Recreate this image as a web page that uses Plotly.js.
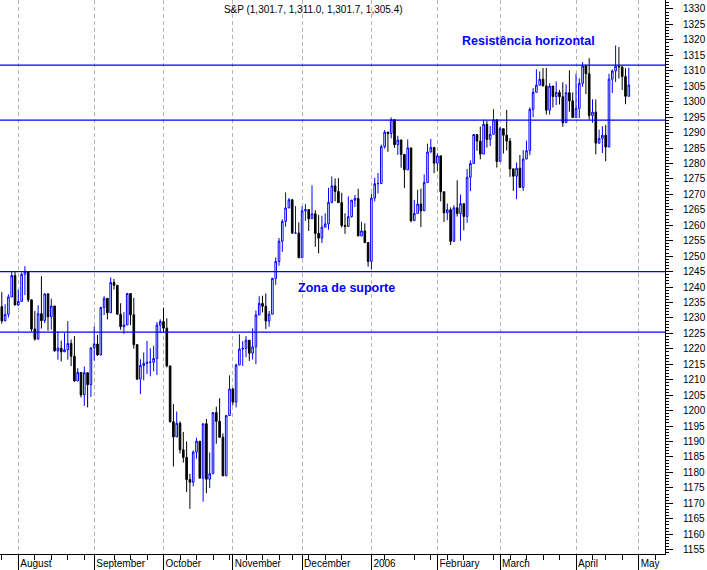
<!DOCTYPE html>
<html><head><meta charset="utf-8">
<script src="https://cdn.plot.ly/plotly-3.0.1.min.js"></script>
<style>html,body{margin:0;padding:0;background:#fff}#chart{width:707px;height:570px}</style>
</head><body><div id="chart"></div>
<script>
const dates = [
'2005-07-25','2005-07-26','2005-07-27','2005-07-28','2005-07-29',
'2005-08-01','2005-08-02','2005-08-03','2005-08-04','2005-08-05','2005-08-08','2005-08-09','2005-08-10','2005-08-11','2005-08-12','2005-08-15','2005-08-16','2005-08-17','2005-08-18','2005-08-19','2005-08-22','2005-08-23','2005-08-24','2005-08-25','2005-08-26','2005-08-29','2005-08-30','2005-08-31',
'2005-09-01','2005-09-02','2005-09-06','2005-09-07','2005-09-08','2005-09-09','2005-09-12','2005-09-13','2005-09-14','2005-09-15','2005-09-16','2005-09-19','2005-09-20','2005-09-21','2005-09-22','2005-09-23','2005-09-26','2005-09-27','2005-09-28','2005-09-29','2005-09-30',
'2005-10-03','2005-10-04','2005-10-05','2005-10-06','2005-10-07','2005-10-10','2005-10-11','2005-10-12','2005-10-13','2005-10-14','2005-10-17','2005-10-18','2005-10-19','2005-10-20','2005-10-21','2005-10-24','2005-10-25','2005-10-26','2005-10-27','2005-10-28','2005-10-31',
'2005-11-01','2005-11-02','2005-11-03','2005-11-04','2005-11-07','2005-11-08','2005-11-09','2005-11-10','2005-11-11','2005-11-14','2005-11-15','2005-11-16','2005-11-17','2005-11-18','2005-11-21','2005-11-22','2005-11-23','2005-11-25','2005-11-28','2005-11-29','2005-11-30',
'2005-12-01','2005-12-02','2005-12-05','2005-12-06','2005-12-07','2005-12-08','2005-12-09','2005-12-12','2005-12-13','2005-12-14','2005-12-15','2005-12-16','2005-12-19','2005-12-20','2005-12-21','2005-12-22','2005-12-23','2005-12-27','2005-12-28','2005-12-29','2005-12-30',
'2006-01-03','2006-01-04','2006-01-05','2006-01-06','2006-01-09','2006-01-10','2006-01-11','2006-01-12','2006-01-13','2006-01-17','2006-01-18','2006-01-19','2006-01-20','2006-01-23','2006-01-24','2006-01-25','2006-01-26','2006-01-27','2006-01-30','2006-01-31',
'2006-02-01','2006-02-02','2006-02-03','2006-02-06','2006-02-07','2006-02-08','2006-02-09','2006-02-10','2006-02-13','2006-02-14','2006-02-15','2006-02-16','2006-02-17','2006-02-21','2006-02-22','2006-02-23','2006-02-24','2006-02-27','2006-02-28',
'2006-03-01','2006-03-02','2006-03-03','2006-03-06','2006-03-07','2006-03-08','2006-03-09','2006-03-10','2006-03-13','2006-03-14','2006-03-15','2006-03-16','2006-03-17','2006-03-20','2006-03-21','2006-03-22','2006-03-23','2006-03-24','2006-03-27','2006-03-28','2006-03-29','2006-03-30','2006-03-31',
'2006-04-03','2006-04-04','2006-04-05','2006-04-06','2006-04-07','2006-04-10','2006-04-11','2006-04-12','2006-04-13','2006-04-17','2006-04-18','2006-04-19','2006-04-20','2006-04-21','2006-04-24','2006-04-25','2006-04-26'
];
const openP = [
1233.68,1229.03,1231.16,1236.79,1243.72,
1234.18,1235.35,1244.12,1245.04,1235.86,1226.42,1223.13,1231.38,1229.13,1237.81,1230.39,1233.87,1219.34,1220.24,1219.02,1219.71,1221.73,1217.59,1209.59,1212.37,1205.10,1212.28,1208.41,
1220.33,1221.59,1218.02,1233.39,1236.36,1231.67,1241.48,1240.56,1231.20,1227.16,1227.73,1237.91,1231.02,1221.34,1210.20,1214.62,1215.29,1215.63,1215.66,1216.89,1227.68,
1228.81,1226.70,1214.47,1196.39,1191.49,1195.90,1187.33,1184.87,1177.68,1176.84,1186.57,1190.10,1178.14,1195.76,1177.80,1179.59,1199.38,1196.54,1191.38,1178.90,1198.41,
1207.01,1202.76,1214.76,1219.94,1220.14,1222.81,1218.59,1220.65,1230.96,1234.72,1233.76,1229.01,1231.21,1242.80,1248.27,1254.85,1261.23,1265.61,1268.25,1257.46,1257.48,
1249.48,1264.67,1265.08,1262.09,1263.70,1257.37,1255.84,1259.37,1260.43,1267.43,1272.74,1270.94,1267.32,1259.92,1259.62,1262.79,1268.12,1268.66,1256.54,1258.17,1254.42,
1248.29,1268.80,1273.46,1273.48,1285.45,1290.15,1289.69,1294.18,1286.06,1287.61,1282.93,1277.93,1285.04,1261.49,1263.82,1266.86,1264.68,1273.83,1283.72,1285.19,
1280.08,1282.46,1270.84,1264.03,1265.02,1254.78,1265.65,1263.78,1266.99,1262.86,1275.53,1280.00,1289.38,1287.24,1283.03,1292.67,1287.79,1289.43,1294.12,
1280.66,1291.24,1289.14,1287.23,1278.26,1275.88,1278.47,1272.23,1281.42,1284.13,1297.48,1303.02,1305.33,1307.25,1305.08,1297.23,1305.04,1301.67,1302.95,1301.61,1293.23,1302.89,1300.25,
1294.87,1297.81,1305.93,1311.56,1309.04,1295.50,1296.62,1286.57,1288.12,1289.12,1285.33,1307.28,1309.93,1311.46,1311.28,1308.11,1301.74
];
const highP = [
1238.36,1234.42,1237.64,1245.15,1245.04,
1239.10,1244.69,1246.75,1245.04,1235.86,1232.28,1234.11,1243.50,1237.81,1237.81,1236.24,1233.87,1225.49,1222.64,1225.08,1228.96,1223.04,1224.15,1213.73,1212.37,1214.28,1212.28,1220.36,
1227.29,1224.45,1233.61,1237.06,1236.36,1243.13,1242.60,1240.56,1234.74,1231.88,1237.95,1237.91,1236.49,1221.52,1216.64,1218.83,1222.56,1220.17,1220.98,1228.70,1229.57,
1233.34,1229.88,1214.47,1202.14,1199.71,1196.52,1193.10,1190.02,1179.56,1187.13,1191.21,1190.10,1195.76,1197.30,1186.46,1199.39,1201.30,1204.01,1192.65,1198.41,1211.43,
1207.34,1215.17,1224.70,1222.52,1224.18,1222.81,1226.59,1232.41,1237.04,1237.20,1237.94,1232.24,1242.96,1249.58,1255.89,1261.90,1270.64,1268.78,1268.44,1266.18,1260.93,
1266.17,1266.85,1265.08,1272.89,1264.85,1263.36,1263.08,1263.86,1272.11,1275.80,1275.17,1275.24,1270.51,1263.86,1269.37,1268.19,1269.76,1271.83,1261.10,1260.61,1254.42,
1270.22,1275.37,1276.91,1286.09,1290.78,1290.15,1294.90,1294.18,1288.96,1287.61,1282.93,1287.79,1285.04,1268.19,1271.47,1271.87,1276.44,1286.38,1287.94,1285.20,
1283.33,1282.46,1270.87,1267.04,1265.78,1266.47,1274.56,1269.89,1266.99,1278.21,1281.00,1289.39,1289.47,1291.92,1294.17,1293.84,1292.11,1297.57,1294.12,
1291.80,1291.24,1297.33,1288.23,1278.26,1280.33,1282.74,1284.37,1287.37,1298.14,1304.40,1310.45,1309.79,1310.88,1310.88,1305.97,1305.04,1306.53,1303.74,1306.24,1305.60,1310.15,1303.00,
1309.04,1307.55,1312.81,1311.99,1314.07,1300.74,1300.71,1290.93,1292.09,1292.45,1309.02,1310.39,1318.16,1317.67,1311.28,1310.79,1310.97
];
const lowP = [
1228.15,1229.03,1230.15,1236.79,1234.18,
1233.80,1235.35,1237.38,1235.15,1225.62,1222.67,1223.13,1226.58,1228.33,1225.87,1226.20,1219.05,1216.47,1215.93,1219.02,1216.47,1214.44,1209.37,1209.57,1204.23,1201.53,1201.07,1204.40,
1216.18,1217.75,1218.02,1230.93,1229.51,1231.67,1239.15,1231.20,1226.16,1224.85,1227.73,1227.65,1220.07,1209.89,1205.35,1209.80,1211.84,1211.11,1212.72,1211.54,1225.22,
1225.15,1214.02,1196.25,1181.92,1191.46,1186.12,1183.16,1173.65,1168.20,1175.44,1184.48,1178.13,1170.55,1173.30,1174.92,1179.59,1189.29,1191.38,1178.89,1178.90,1198.41,
1201.66,1201.07,1214.76,1214.45,1217.29,1216.08,1216.53,1215.05,1230.96,1231.78,1226.41,1227.18,1231.21,1240.71,1246.90,1251.40,1259.51,1265.54,1257.17,1257.46,1249.39,
1249.48,1261.42,1258.12,1262.09,1253.02,1250.91,1254.24,1259.37,1258.56,1267.07,1267.74,1267.32,1259.28,1257.21,1259.62,1262.50,1265.92,1256.54,1256.54,1254.18,1246.59,
1245.74,1267.74,1270.30,1273.48,1284.82,1283.76,1288.12,1285.04,1282.78,1278.61,1272.08,1277.93,1260.92,1261.49,1263.82,1259.42,1264.68,1273.83,1283.51,1276.85,
1277.57,1267.72,1261.02,1261.62,1253.61,1254.78,1262.80,1254.98,1258.34,1260.80,1271.06,1280.00,1284.07,1281.33,1283.03,1285.14,1285.62,1289.43,1278.66,
1280.66,1283.21,1284.20,1275.67,1271.11,1268.42,1272.20,1271.11,1281.42,1282.67,1294.97,1303.02,1305.32,1305.05,1295.82,1295.81,1298.11,1298.89,1299.09,1291.84,1293.23,1296.72,1294.87,
1294.87,1294.71,1304.82,1302.44,1294.18,1293.17,1282.96,1286.45,1283.37,1280.74,1285.33,1302.79,1306.38,1307.48,1303.79,1299.17,1301.74
];
const closeP = [
1229.03,1231.16,1236.79,1243.72,1234.18,
1235.35,1244.12,1245.04,1235.86,1226.42,1223.13,1231.38,1229.13,1237.81,1230.39,1233.87,1219.34,1220.24,1219.02,1219.71,1221.73,1217.59,1209.59,1212.37,1205.10,1212.28,1208.41,1220.33,
1221.59,1218.02,1233.39,1236.36,1231.67,1241.48,1240.56,1231.20,1227.16,1227.73,1237.91,1231.02,1221.34,1210.20,1214.62,1215.29,1215.63,1215.66,1216.89,1227.68,1228.81,
1226.70,1214.47,1196.39,1191.49,1195.90,1187.33,1184.87,1177.68,1176.84,1186.57,1190.10,1178.14,1195.76,1177.80,1179.59,1199.38,1196.54,1191.38,1178.90,1198.41,1207.01,
1202.76,1214.76,1219.94,1220.14,1222.81,1218.59,1220.65,1230.96,1234.72,1233.76,1229.01,1231.21,1242.80,1248.27,1254.85,1261.23,1265.61,1268.25,1257.46,1257.48,1249.48,
1264.67,1265.08,1262.09,1263.70,1257.37,1255.84,1259.37,1260.43,1267.43,1272.74,1270.94,1267.32,1259.92,1259.62,1262.79,1268.12,1268.66,1256.54,1258.17,1254.42,1248.29,
1268.80,1273.46,1273.48,1285.45,1290.15,1289.69,1294.18,1286.06,1287.61,1282.93,1277.93,1285.04,1261.49,1263.82,1266.86,1264.68,1273.83,1283.72,1285.19,1280.08,
1282.46,1270.84,1264.03,1265.02,1254.78,1265.65,1263.78,1266.99,1262.86,1275.53,1280.00,1289.38,1287.24,1283.03,1292.67,1287.79,1289.43,1294.12,1280.66,
1291.24,1289.14,1287.23,1278.26,1275.88,1278.47,1272.23,1281.42,1284.13,1297.48,1303.02,1305.33,1307.25,1305.08,1297.23,1305.04,1301.67,1302.95,1301.61,1293.23,1302.89,1300.25,1294.87,
1297.81,1305.93,1311.56,1309.04,1295.50,1296.62,1286.57,1288.12,1289.12,1285.33,1307.28,1309.93,1311.46,1311.28,1308.11,1301.74,1305.41
];
// trading days after the last bar, still shown on the axis
const futureDates = ['2006-04-27','2006-04-28','2006-05-01','2006-05-02','2006-05-03','2006-05-04','2006-05-05','2006-05-08','2006-05-09','2006-05-10','2006-05-11'];
const monthTickDates = ['2005-08-01','2005-09-01','2005-10-03','2005-11-01','2005-12-01','2006-01-03','2006-02-01','2006-03-01','2006-04-03','2006-05-01'];
const monthTickLabels = ['August','September','October','November','December','2006','February','March','April','May'];
const levels = [1311.8, 1294.0, 1245.0, 1225.4];
const titleText = 'S&P (1,301.7, 1,311.0, 1,301.7, 1,305.4)';
const noteTexts = ['Resistência horizontal', 'Zona de suporte'];

const allDates = dates.concat(futureDates);
// weekly minor ticks on Mondays
const mondays = allDates.filter(d => new Date(d + 'T00:00:00Z').getUTCDay() === 1 && monthTickDates.indexOf(d) < 0);

const FONT = 'Liberation Sans, Arial, sans-serif';

const traces = [
  {
    type: 'candlestick',
    x: dates, open: openP, high: highP, low: lowP, close: closeP,
    increasing: {line: {color: '#0000ff', width: 1}, fillcolor: '#ffffff'},
    decreasing: {line: {color: '#000000', width: 1}, fillcolor: '#000000'},
    whiskerwidth: 0,
    showlegend: false,
    hoverinfo: 'skip'
  },
  {
    type: 'scatter', mode: 'markers',
    x: futureDates, y: futureDates.map(() => 1300),
    marker: {opacity: 0, size: 1},
    showlegend: false, hoverinfo: 'skip'
  }
];

const layout = {
  width: 707, height: 570,
  margin: {l: 0, r: 42, t: 0, b: 16, pad: 0},
  paper_bgcolor: '#ffffff', plot_bgcolor: '#ffffff',
  showlegend: false,
  font: {family: FONT, size: 10, color: '#000000'},
  title: {text: titleText, x: 333/707, xanchor: 'center', xref: 'paper', y: 1 - 9/570, yanchor: 'middle',
          font: {family: FONT, size: 10, color: '#000000'}},
  xaxis: {
    type: 'category',
    categoryorder: 'array', categoryarray: allDates,
    range: [-0.55, 200.97],
    rangeslider: {visible: false},
    tickmode: 'array', tickvals: monthTickDates, ticktext: monthTickLabels,
    ticks: 'outside', ticklen: 16, tickwidth: 1, tickcolor: '#000000',
    ticklabelposition: 'outside right',
    ticklabelstandoff: 0,
    ticklabelshift: 1,
    tickfont: {family: FONT, size: 10, color: '#000000'},
    showline: true, linecolor: '#000000', linewidth: 1,
    showgrid: true, gridcolor: '#b4b4b4', gridwidth: 1, griddash: '4px,3px',
    zeroline: false,
    minor: {tickmode: 'array', tickvals: mondays, ticks: 'outside', ticklen: 5, tickcolor: '#000000', tickwidth: 1, showgrid: false}
  },
  yaxis: {
    side: 'right',
    range: [1153.6, 1332.9],
    tickmode: 'linear', tick0: 1155, dtick: 5,
    ticks: 'outside', ticklen: 7, tickwidth: 1, tickcolor: '#000000',
    ticklabelstandoff: 8,
    tickfont: {family: FONT, size: 10, color: '#000000'},
    showline: true, linecolor: '#000000', linewidth: 1,
    showgrid: false, zeroline: false,
    minor: {dtick: 1, tick0: 1155, ticks: 'outside', ticklen: 3, tickcolor: '#000000', tickwidth: 1, showgrid: false}
  },
  shapes: levels.map(v => ({type: 'line', xref: 'paper', x0: 0, x1: 1, yref: 'y', y0: v, y1: v,
                            line: {color: '#0000ff', width: 1.3}})),
  annotations: [
    {text: '<b>' + noteTexts[0] + '</b>', xref: 'paper', yref: 'paper', x: 528/665, y: 1 - 41/554,
     xanchor: 'center', yanchor: 'middle', showarrow: false, font: {family: FONT, size: 12.5, color: '#0000ff'}},
    {text: '<b>' + noteTexts[1] + '</b>', xref: 'paper', yref: 'paper', x: 346/665, y: 1 - 288/554,
     xanchor: 'center', yanchor: 'middle', showarrow: false, font: {family: FONT, size: 12.5, color: '#0000ff'}}
  ]
};

Plotly.newPlot('chart', traces, layout, {displayModeBar: false, staticPlot: true});
</script>
</body></html>
